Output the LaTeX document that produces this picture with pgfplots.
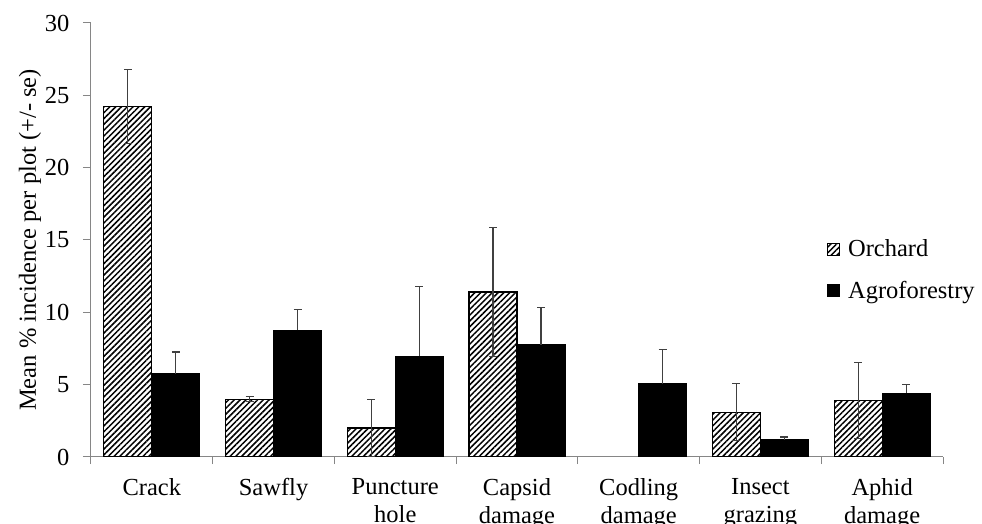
\documentclass[border=0pt]{standalone}
\usepackage{fontspec}
\setmainfont{Liberation Serif}
\usepackage{pgfplots}
\pgfplotsset{compat=1.18}
\usetikzlibrary{patterns.meta}
\definecolor{axgray}{HTML}{868686}
\definecolor{errgray}{HTML}{404040}
\pgfplotstableread{
x y e
0 24.25 2.55
1 4.00 0.18
2 2.00 1.95
3 11.40 4.45
5 3.08 1.97
6 3.90 2.62
}\orchard
\pgfplotstableread{
x y e
0 5.76 1.50
1 8.76 1.43
2 6.95 4.83
3 7.77 2.56
4 5.05 2.37
5 1.20 0.18
6 4.42 0.60
}\agro
\begin{document}
\begin{tikzpicture}
\begin{axis}[
  at={(0,0)}, anchor=south west,
  scale only axis, width=852pt, height=434pt,
  xmin=-0.5, xmax=6.5, ymin=0, ymax=30,
  axis x line=bottom, axis y line=left,
  axis line style={-, draw=axgray, line width=1pt},
  ytick={0,5,...,30},
  xtick={0,...,6},
  xticklabels={Crack,Sawfly,{Puncture\\hole},{Capsid\\damage},{Codling\\damage},{Insect\\grazing},{Aphid\\damage}},
  minor xtick={-0.5,0.5,...,6.5},
  major x tick style={draw=none},
  minor x tick style={draw=axgray, line width=1pt},
  major y tick style={draw=axgray, line width=1pt},
  tick align=outside,
  major tick length=8pt, minor tick length=7pt,
  /pgf/number format/assume math mode=true,
  tick label style={font=\fontsize{24.5}{28}\selectfont},
  xticklabel style={align=center, anchor=north, yshift=-10pt},
  yticklabel style={xshift=-10pt},
  ylabel={Mean \% incidence per plot (+/- se)},
  ylabel style={font=\fontsize{24.5}{28}\selectfont, yshift=-3pt},
  ybar=0pt, bar width=48pt,
  legend style={at={(0.86,0.51)}, anchor=north west, draw=none, fill=none,
    font=\fontsize{24.5}{28}\selectfont, row sep=19pt},
  legend cell align=left,
  legend image code/.code={\draw[#1] (0pt,-6pt) rectangle (12pt,6pt); \path (18pt,0pt);},
  error bars/y explicit,
  error bars/error bar style={line width=1.1pt, draw=errgray},
  error bars/error mark options={rotate=90, mark size=4pt, line width=1.1pt, draw=errgray},
]
\addplot[draw=black, line width=1.2pt, pattern={Lines[angle=45,distance=4.1pt,line width=1.5pt]},
  error bars/y dir=both]
  table[x=x, y=y, y error=e] {\orchard};
\addlegendentry{Orchard}
\addplot[draw=black, fill=black, line width=1pt, error bars/y dir=plus]
  table[x=x, y=y, y error=e] {\agro};
\addlegendentry{Agroforestry}
\end{axis}
\pgfresetboundingbox
\path[use as bounding box] (-91pt,-67pt) rectangle (891pt,457pt);
\end{tikzpicture}
\end{document}
